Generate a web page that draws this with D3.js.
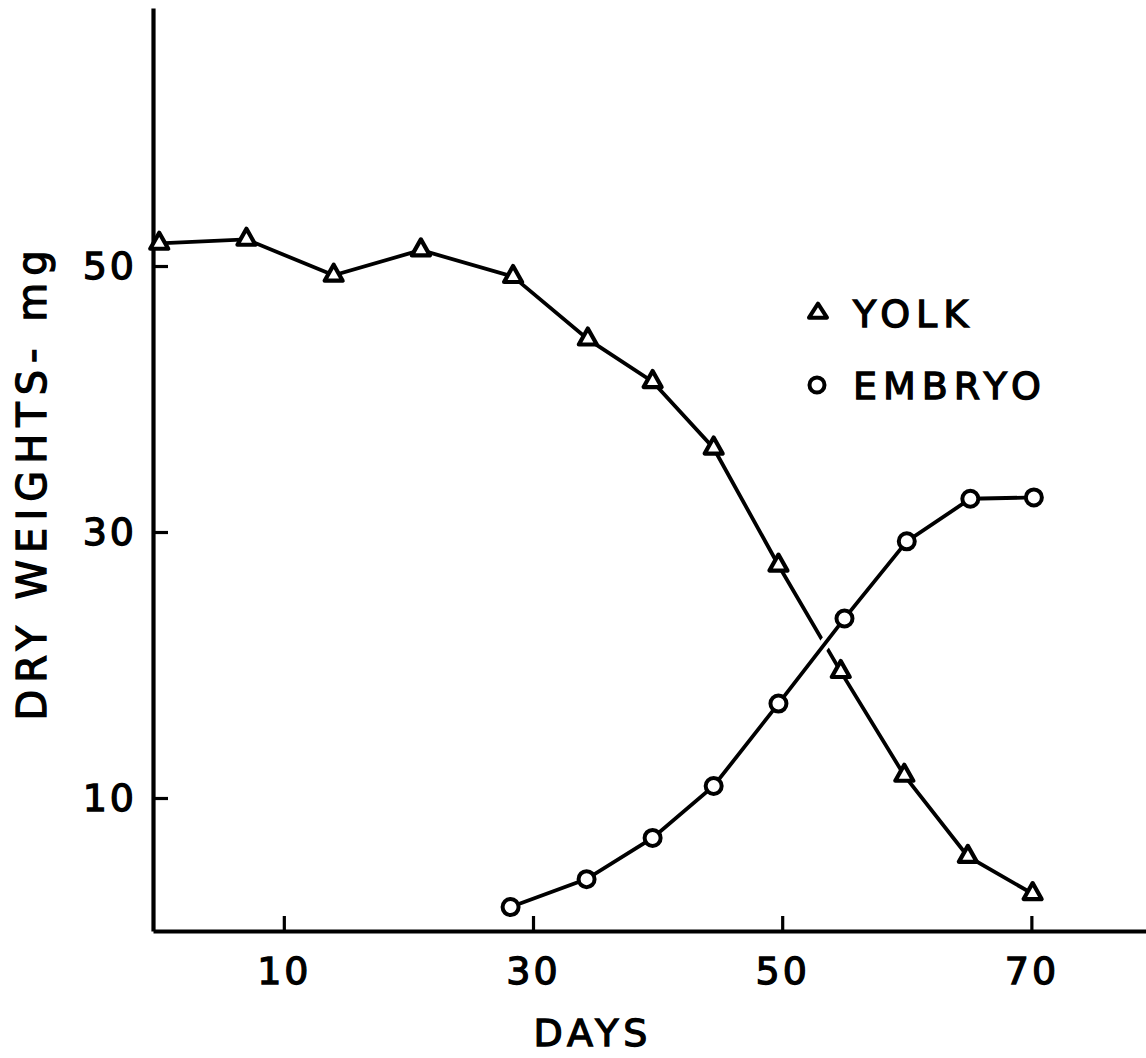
<!DOCTYPE html>
<html>
<head>
<meta charset="utf-8">
<script src="https://cdn.jsdelivr.net/npm/d3@7"></script>
<style>
  html, body { margin: 0; padding: 0; background: #fff; }
  svg { display: block; }
  text { font-family: "DejaVu Sans", sans-serif; fill: #000; stroke: #000; stroke-width: 1.3px; }
</style>
</head>
<body>
<svg id="chart" width="1146" height="1058"></svg>
<script>
// ---- data ----
const yolkDays    = [0, 7, 14, 21, 28.4, 34.4, 39.6, 44.5, 49.7, 54.7, 59.8, 64.9, 70.1];
const yolkWeights = [51.7, 52.0, 49.3, 51.2, 49.2, 44.5, 41.3, 36.3, 27.5, 19.5, 11.7, 5.6, 2.8];
const embryoDays    = [28.2, 34.3, 39.6, 44.5, 49.7, 55.0, 60.0, 65.1, 70.2];
const embryoWeights = [1.8, 3.9, 7.0, 10.9, 17.1, 23.5, 29.3, 32.5, 32.6];
const xTicks = [10, 30, 50, 70];
const yTicks = [10, 30, 50];
const seriesNames = ["YOLK", "EMBRYO"];
const xTitle = "DAYS";
const yTitle = "DRY WEIGHTS- mg";

const yolk = yolkDays.map((d, i) => ({ x: d, y: yolkWeights[i] }));
const embryo = embryoDays.map((d, i) => ({ x: d, y: embryoWeights[i] }));

const svg = d3.select("#chart");
const x = d3.scaleLinear().domain([-0.5, 79.2]).range([153, 1146]);
const y = d3.scaleLinear().domain([0, 69.4]).range([931, 8]);

const TICK = 15, FS = 38;

// x axis
const gx = svg.append("g").attr("transform", `translate(0,${y(0)})`)
  .call(d3.axisBottom(x).tickValues(xTicks).tickFormat(d3.format("d"))
    .tickSizeInner(-TICK).tickSizeOuter(0).tickPadding(26));
gx.select(".domain").attr("stroke", "#000").attr("stroke-width", 3.8);
gx.selectAll(".tick line").attr("stroke", "#000").attr("stroke-width", 3.2);
gx.selectAll(".tick text").attr("font-size", FS).attr("font-family", "DejaVu Sans")
  .attr("fill", "#000").attr("letter-spacing", 3);

// y axis
const gy = svg.append("g").attr("transform", `translate(${x(-0.5)},0)`)
  .call(d3.axisLeft(y).tickValues(yTicks).tickFormat(d3.format("d"))
    .tickSizeInner(-TICK).tickSizeOuter(0).tickPadding(16));
gy.select(".domain").attr("stroke", "#000").attr("stroke-width", 4.2);
gy.selectAll(".tick line").attr("stroke", "#000").attr("stroke-width", 3.2);
gy.selectAll(".tick text").attr("font-size", FS).attr("font-family", "DejaVu Sans")
  .attr("fill", "#000").attr("letter-spacing", 3);

// titles
svg.append("text").attr("x", 593).attr("y", 1046).attr("text-anchor", "middle")
  .attr("font-size", FS).attr("letter-spacing", 5).text(xTitle);
svg.append("text").attr("transform", `translate(46,482) rotate(-90)`)
  .attr("text-anchor", "middle").attr("font-size", 40).attr("letter-spacing", 7)
  .text(yTitle);

// lines
const line = d3.line().x(d => x(d.x)).y(d => y(d.y));
svg.append("path").datum(yolk).attr("d", line)
  .attr("fill", "none").attr("stroke", "#000").attr("stroke-width", 3.8);
// white halo to break yolk line where embryo line crosses
svg.append("path").datum(embryo).attr("d", line)
  .attr("fill", "none").attr("stroke", "#fff").attr("stroke-width", 11);
svg.append("path").datum(embryo).attr("d", line)
  .attr("fill", "none").attr("stroke", "#000").attr("stroke-width", 3.8);

// markers
const triW = 18, triH = 16;
const triPath = `M0,${-triH*2/3}L${triW/2},${triH/3}L${-triW/2},${triH/3}Z`;
svg.append("g").selectAll("path").data(yolk).join("path")
  .attr("d", triPath)
  .attr("transform", d => `translate(${x(d.x)},${y(d.y)})`)
  .attr("fill", "#fff").attr("stroke", "#000").attr("stroke-width", 4.2)
  .attr("stroke-linejoin", "round");
svg.append("g").selectAll("circle").data(embryo).join("circle")
  .attr("cx", d => x(d.x)).attr("cy", d => y(d.y)).attr("r", 8)
  .attr("fill", "#fff").attr("stroke", "#000").attr("stroke-width", 4);

// legend
const leg = svg.append("g");
leg.append("path").attr("d", `M0,${-14*2/3}L9,${14/3}L-9,${14/3}Z`)
  .attr("transform", "translate(818,313)")
  .attr("fill", "#fff").attr("stroke", "#000").attr("stroke-width", 4)
  .attr("stroke-linejoin", "round");
leg.append("circle").attr("cx", 817).attr("cy", 385).attr("r", 7.5)
  .attr("fill", "#fff").attr("stroke", "#000").attr("stroke-width", 4);
leg.append("text").attr("x", 853).attr("y", 327).attr("font-size", FS)
  .attr("letter-spacing", 6).text(seriesNames[0]);
leg.append("text").attr("x", 853).attr("y", 399).attr("font-size", FS)
  .attr("letter-spacing", 6).text(seriesNames[1]);
</script>
</body>
</html>
